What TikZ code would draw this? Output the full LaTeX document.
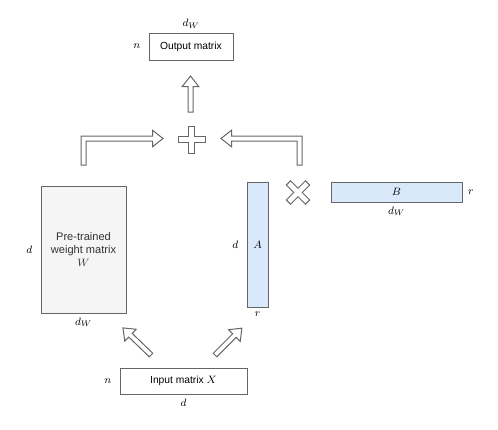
\documentclass[tikz,border=0pt]{standalone}
\usepackage{fontspec}
\setmainfont{Liberation Sans}
\usetikzlibrary{positioning}
\definecolor{edgegray}{HTML}{666666}
\definecolor{paleblue}{HTML}{DAE8FC}
\definecolor{palegray}{HTML}{F5F5F5}
\definecolor{textgray}{HTML}{333333}

\tikzset{
  pics/fatarrow/.style = {code = {
    \draw[outline] (0,-2.5) -- (#1-10.5,-2.5) -- (#1-10.5,-8.25) -- (#1,0)
      -- (#1-10.5,8.25) -- (#1-10.5,2.5) -- (0,2.5) -- cycle;
  }},
  pics/opsign/.style = {code = {
    \draw[outline] (-3,-13.5) -- (3,-13.5) -- (3,-3) -- (13.5,-3) -- (13.5,3)
      -- (3,3) -- (3,13.5) -- (-3,13.5) -- (-3,3) -- (-13.5,3) -- (-13.5,-3)
      -- (-3,-3) -- cycle;
  }}
}

\begin{document}
\begin{tikzpicture}[x = 0.75pt, y = -0.75pt, font = \fontsize{7.7}{9}\selectfont]

  \tikzstyle{mat} = [rectangle, draw = edgegray, line width = 0.75pt, inner sep = 0pt]
  \tikzstyle{dimlbl} = [inner sep = 0pt, font = \fontsize{8.5}{9}\selectfont]
  \tikzstyle{outline} = [draw = edgegray, fill = white, line width = 0.75pt, line join = miter]

  \useasboundingbox (0,0) rectangle (498,429);

    % matrices
    \node[mat, fill = white, minimum width = 63pt, minimum height = 20.25pt,
      label = {[dimlbl, label distance = 6pt]left:$n$},
      label = {[dimlbl, label distance = 3pt]above:$d_W$}] (out) at (191,46.5) {Output matrix};

    \node[mat, fill = palegray, minimum width = 63.75pt, minimum height = 95.25pt,
      align = center, text = textgray, font = \fontsize{8.3}{9.4}\selectfont,
      label = {[dimlbl, label distance = 6pt]left:$d$},
      label = {[dimlbl, label distance = 3pt]below:$d_W$}] (W) at (83.5,249.5)
      {Pre-trained\\weight matrix\\$W$};

    \node[mat, fill = paleblue, minimum width = 15.75pt, minimum height = 93.75pt,
      font = \fontsize{8.5}{9}\selectfont,
      label = {[dimlbl, label distance = 6pt]left:$d$},
      label = {[dimlbl, label distance = 3pt]below:$r$}] (A) at (257.5,244.5) {$A$};

    \node[mat, fill = paleblue, minimum width = 98.25pt, minimum height = 15pt,
      font = \fontsize{8.5}{9}\selectfont,
      label = {[dimlbl, label distance = 4pt]right:$r$},
      label = {[dimlbl, label distance = 3pt]below:$d_W$}] (B) at (396.5,192) {$B$};

    \node[mat, fill = white, minimum width = 95.25pt, minimum height = 19.5pt,
      label = {[dimlbl, label distance = 6pt]left:$n$},
      label = {[dimlbl, label distance = 3pt]below:$d$}] (in) at (183.5,381) {Input matrix $X$};

    % operators
    \pic at (191.5,139.5) {opsign};
    \pic[rotate = 45] at (298,192.5) {opsign};

    % block arrows
    \pic[rotate = 90] at (190.5,112) {fatarrow = 36};
    \pic[rotate = 136] at (151,355) {fatarrow = 39};
    \pic[rotate = 45] at (215,355) {fatarrow = 38};

    \draw[outline] (81,165) -- (81,136) -- (152.5,136) -- (152.5,130.25) -- (163,138.5)
      -- (152.5,146.75) -- (152.5,141) -- (86,141) -- (86,165) -- cycle;
    \draw[outline] (302,165) -- (302,136) -- (231.5,136) -- (231.5,130.25) -- (221,138.5)
      -- (231.5,146.75) -- (231.5,141) -- (297,141) -- (297,165) -- cycle;
\end{tikzpicture}
\end{document}
